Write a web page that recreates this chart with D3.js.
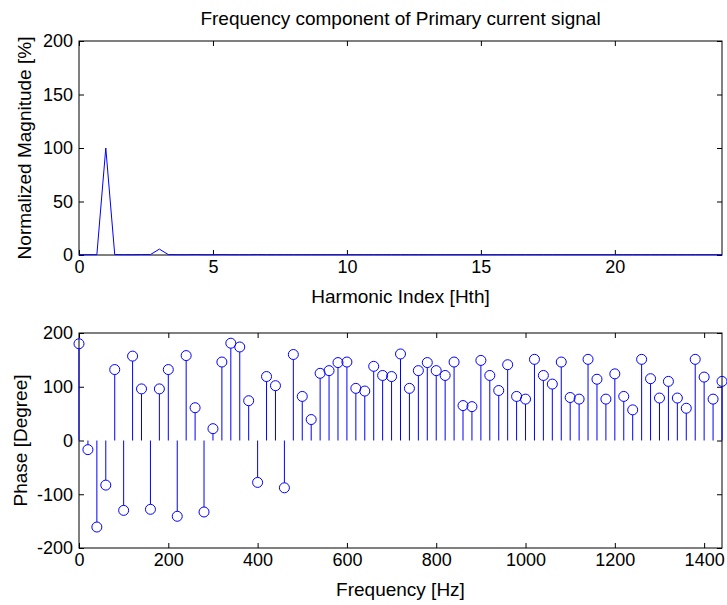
<!DOCTYPE html>
<html>
<head>
<meta charset="utf-8">
<script src="https://cdn.jsdelivr.net/npm/d3@7"></script>
<style>
  body { margin: 0; background: #fff; }
  text { font-family: "Liberation Sans", Arial, Helvetica, sans-serif; }
</style>
</head>
<body>
<script>
// Frequency component of primary current: magnitude (top) and phase (bottom)

const outerWidth = 727;
const outerHeight = 605;

// harmonic axis runs in thirds of a harmonic (20 Hz steps of a 60 Hz base)
const freqs = d3.range(0, 1441, 20);

// normalized magnitude [%], one value per 20 Hz bin
const magnitude = [0.3, 0.3, 0.3, 100, 0.4, 0.3, 0.3, 0.4, 0.4, 5.5, 0.4, 0.3,
                   0.3, 0.4, 0.3, 0.3, 0.4, 0.3, 0.3, 0.3, 0.4, 0.3, 0.3, 0.3,
                   0.3, 0.3, 0.3, 0.3, 0.3, 0.3, 0.3, 0.3, 0.3, 0.3, 0.3, 0.3,
                   0.3, 0.3, 0.3, 0.3, 0.3, 0.3, 0.3, 0.3, 0.3, 0.3, 0.3, 0.3,
                   0.3, 0.3, 0.3, 0.3, 0.3, 0.3, 0.3, 0.3, 0.3, 0.3, 0.3, 0.3,
                   0.3, 0.3, 0.3, 0.3, 0.3, 0.3, 0.3, 0.3, 0.3, 0.3, 0.3, 0.3, 0.3];

// phase [degree]
const phase = [180, -17, -161, -83, 132, -130, 157, 96, -128, 96, 132, -141,
               158, 61, -133, 22, 146, 181, 174, 74, -78, 119, 102, -88,
               160, 82, 39, 125, 130, 145, 146, 97, 92, 138, 121, 119,
               161, 97, 130, 145, 130, 121, 146, 65, 63, 149, 121, 93,
               141, 82, 77, 151, 121, 105, 146, 80, 77, 151, 114, 77,
               124, 82, 57, 151, 115, 79, 110, 79, 60, 151, 118, 77, 110];

const magTicksX = [0, 5, 10, 15, 20];
const magTicksY = [0, 50, 100, 150, 200];
const phaseTicksX = [0, 200, 400, 600, 800, 1000, 1200, 1400];
const phaseTicksY = [-200, -100, 0, 100, 200];

const blue = "#0000ff";

const svg = d3.select("body").append("svg")
    .attr("width", outerWidth)
    .attr("height", outerHeight);

const left = 79, right = 722;
const top1 = 41, bottom1 = 255;
const top2 = 333, bottom2 = 548;

// plain integer labels, ascii minus like matlab
const fmt = d => String(d);

// draw the box, inward ticks on all four sides and the tick labels
function drawAxes(x, y, xt, yt, yTop, yBottom) {
  const g = svg.append("g");
  const tickStyle = sel => {
    sel.select(".domain").remove();
    sel.selectAll("line").attr("stroke", "#000");
    sel.selectAll("text").style("font-size", "18px").attr("fill", "#000");
  };
  g.append("g").attr("transform", `translate(0,${yBottom})`)
    .call(d3.axisBottom(x).tickValues(xt).tickFormat(fmt).tickSizeInner(-5).tickSizeOuter(0).tickPadding(5))
    .call(tickStyle);
  g.append("g").attr("transform", `translate(0,${yTop})`)
    .call(d3.axisTop(x).tickValues(xt).tickSizeInner(-5).tickSizeOuter(0).tickFormat(""))
    .call(tickStyle);
  g.append("g").attr("transform", `translate(${left},0)`)
    .call(d3.axisLeft(y).tickValues(yt).tickFormat(fmt).tickSizeInner(-5).tickSizeOuter(0).tickPadding(6))
    .call(tickStyle);
  g.append("g").attr("transform", `translate(${right},0)`)
    .call(d3.axisRight(y).tickValues(yt).tickSizeInner(-5).tickSizeOuter(0).tickFormat(""))
    .call(tickStyle);
  g.append("rect")
    .attr("x", left).attr("y", yTop)
    .attr("width", right - left).attr("height", yBottom - yTop)
    .attr("fill", "none").attr("stroke", "#000").attr("stroke-width", 1);
}

// ---- top: magnitude spectrum ----
const x1 = d3.scaleLinear().domain([0, 24]).range([left, right]);
const y1 = d3.scaleLinear().domain([0, 200]).range([bottom1, top1]);

drawAxes(x1, y1, magTicksX, magTicksY, top1, bottom1);

const magLine = d3.line()
    .x((d, i) => x1(freqs[i] / 60))
    .y(d => y1(d));

svg.append("path")
    .datum(magnitude)
    .attr("d", magLine)
    .attr("fill", "none")
    .attr("stroke", blue)
    .attr("stroke-width", 1);

svg.append("text")
    .text("Frequency component of Primary current signal")
    .attr("x", (left + right) / 2)
    .attr("y", 25)
    .style("text-anchor", "middle")
    .style("font-size", "19px");

svg.append("text")
    .text("Harmonic Index [Hth]")
    .attr("x", (left + right) / 2)
    .attr("y", 303)
    .style("text-anchor", "middle")
    .style("font-size", "19px");

svg.append("text")
    .text("Normalized Magnitude [%]")
    .attr("transform", `translate(31,${(top1 + bottom1) / 2}) rotate(-90)`)
    .style("text-anchor", "middle")
    .style("font-size", "19px");

// ---- bottom: phase stem plot ----
const x2 = d3.scaleLinear().domain([0, 1440]).range([left, right]);
const y2 = d3.scaleLinear().domain([-200, 200]).range([bottom2, top2]);

drawAxes(x2, y2, phaseTicksX, phaseTicksY, top2, bottom2);

const r = 5;
const stems = svg.append("g");
stems.selectAll("line")
    .data(phase)
    .join("line")
    .attr("x1", (d, i) => x2(freqs[i]))
    .attr("x2", (d, i) => x2(freqs[i]))
    .attr("y1", y2(0))
    .attr("y2", d => {
      const yy = y2(d);
      return yy < y2(0) ? Math.min(yy + r, y2(0)) : Math.max(yy - r, y2(0));
    })
    .attr("stroke", blue)
    .attr("stroke-width", 1);

stems.selectAll("circle")
    .data(phase)
    .join("circle")
    .attr("cx", (d, i) => x2(freqs[i]))
    .attr("cy", d => y2(d))
    .attr("r", r)
    .attr("fill", "none")
    .attr("stroke", blue)
    .attr("stroke-width", 1);

svg.append("text")
    .text("Frequency [Hz]")
    .attr("x", (left + right) / 2)
    .attr("y", 596)
    .style("text-anchor", "middle")
    .style("font-size", "19px");

svg.append("text")
    .text("Phase [Degree]")
    .attr("transform", `translate(27,${(top2 + bottom2) / 2}) rotate(-90)`)
    .style("text-anchor", "middle")
    .style("font-size", "19px");
</script>
</body>
</html>
